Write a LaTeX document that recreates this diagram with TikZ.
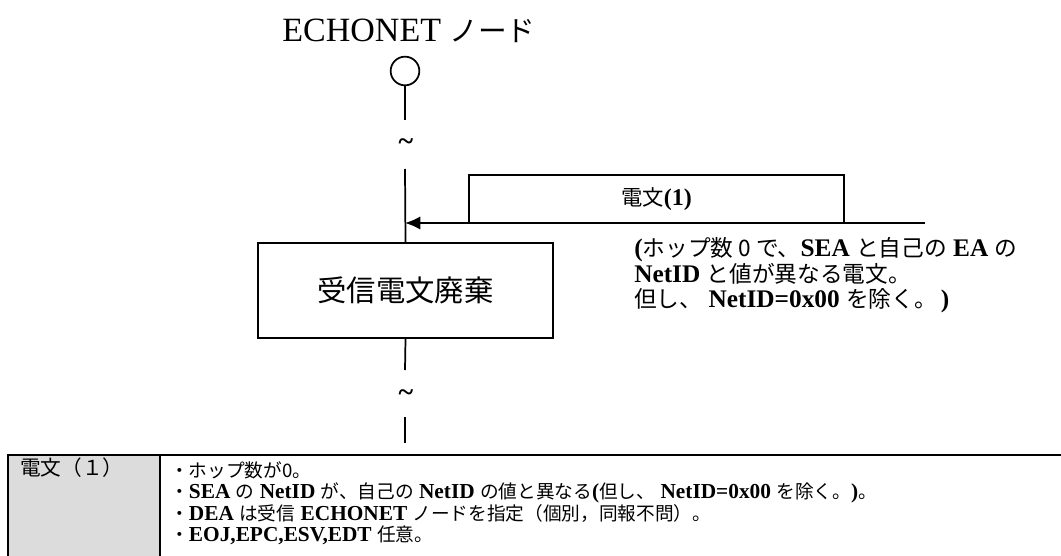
\documentclass[tikz,border=0pt]{standalone}
\usepackage{fontspec}
\setmainfont{Liberation Serif}
\newfontfamily\jp{Noto Sans CJK JP}
\usetikzlibrary{arrows.meta}
\definecolor{cellgray}{RGB}{220,220,220}
\newcommand{\JD}[1]{{\jp\mdseries\fontsize{17}{18.75}\selectfont #1}}
\newcommand{\JT}[1]{{\jp\mdseries\fontsize{14}{16.2}\selectfont #1}}
\tikzset{
  ln/.style={line width=1.3pt},
  boxstyle/.style={draw, line width=1.3pt, inner sep=0pt},
  tild/.style={inner sep=0pt, font=\bfseries\fontsize{21}{21}\selectfont},
  descline/.style={anchor=base west, inner sep=0pt, font=\bfseries\fontsize{19}{18.75}\selectfont},
  tabline/.style={anchor=base west, inner sep=0pt, font=\bfseries\fontsize{16}{16.2}\selectfont},
}
\begin{document}
\begin{tikzpicture}[x=0.75pt,y=-0.75pt]
\path[clip] (0,0) rectangle (1061,556);
% title
\node[inner sep=0pt, anchor=base, font=\fontsize{25.5}{25.5}\selectfont] (title) at (409,42) {ECHONET {\jp\fontsize{21.5}{21.5}\selectfont ノード}};
% node circle
\node[draw, circle, line width=1.3pt, minimum size=21.5pt, inner sep=0pt] (nd) at (405,71) {};
\coordinate (l1e) at (405,120);
\node[tild] (t1) at (406,145) {\char"7E};
\coordinate (l2s) at (405,169);
% receive box
\node[boxstyle, minimum width=221.25pt, minimum height=71.25pt, font=\jp\fontsize{22}{22}\selectfont] (recv) at (405.5,290.5) {受信電文廃棄};
% message box
\node[boxstyle, minimum width=281.25pt, minimum height=36pt, font=\bfseries\fontsize{18}{18}\selectfont] (msg) at (656.5,199) {{\jp\mdseries\fontsize{16}{16}\selectfont 電文}(1)};
\coordinate (as) at (925,223);
\coordinate (ae) at (405,223);
\draw[ln] (nd.south) -- (l1e);
\draw[ln] (l2s) -- (recv.north);
\draw[ln, -{Latex[length=11.5pt,width=10pt]}] (as) -- (ae);
% description
\node[descline] (desc1) at (634,257) {(\JD{ホップ数 0 で、}SEA \JD{と自己の} EA \JD{の}};
\node[descline] (desc2) at (634,282) {NetID \JD{と値が異なる電文。}};
\node[descline] (desc3) at (634,307) {\JD{但し、} NetID=0x00 \JD{を除く。}\hspace{3pt})};
% lower lines
\coordinate (l3e) at (405,370);
\node[tild] (t2) at (406,396) {\char"7E};
\coordinate (l4s) at (405,417);
\coordinate (l4e) at (405,443);
\draw[ln] (recv.south) -- (l3e);
\draw[ln] (l4s) -- (l4e);
% table
\fill[cellgray] (8,455) rectangle (160,620);
\draw[line width=2pt] (8,455) rectangle (1080,620);
\draw[line width=2pt] (160,455) -- (160,620);
\node[anchor=base west, inner sep=0pt, font=\jp\fontsize{15.5}{15.5}\selectfont] (cellhead) at (20,475) {電文（１）};
\node[tabline] (row1) at (170,477) {\JT{・ホップ数が0。}};
\node[tabline] (row2) at (170,498.5) {\JT{・}SEA \JT{の} NetID \JT{が、自己の} NetID \JT{の値と異なる}(\JT{但し、} NetID=0x00 \JT{を除く。})\JT{。}};
\node[tabline] (row3) at (170,520) {\JT{・}DEA \JT{は受信} ECHONET \JT{ノードを指定（個別，同報不問）。}};
\node[tabline] (row4) at (170,541.5) {\JT{・}EOJ,EPC,ESV,EDT \JT{任意。}};
\end{tikzpicture}
\end{document}
